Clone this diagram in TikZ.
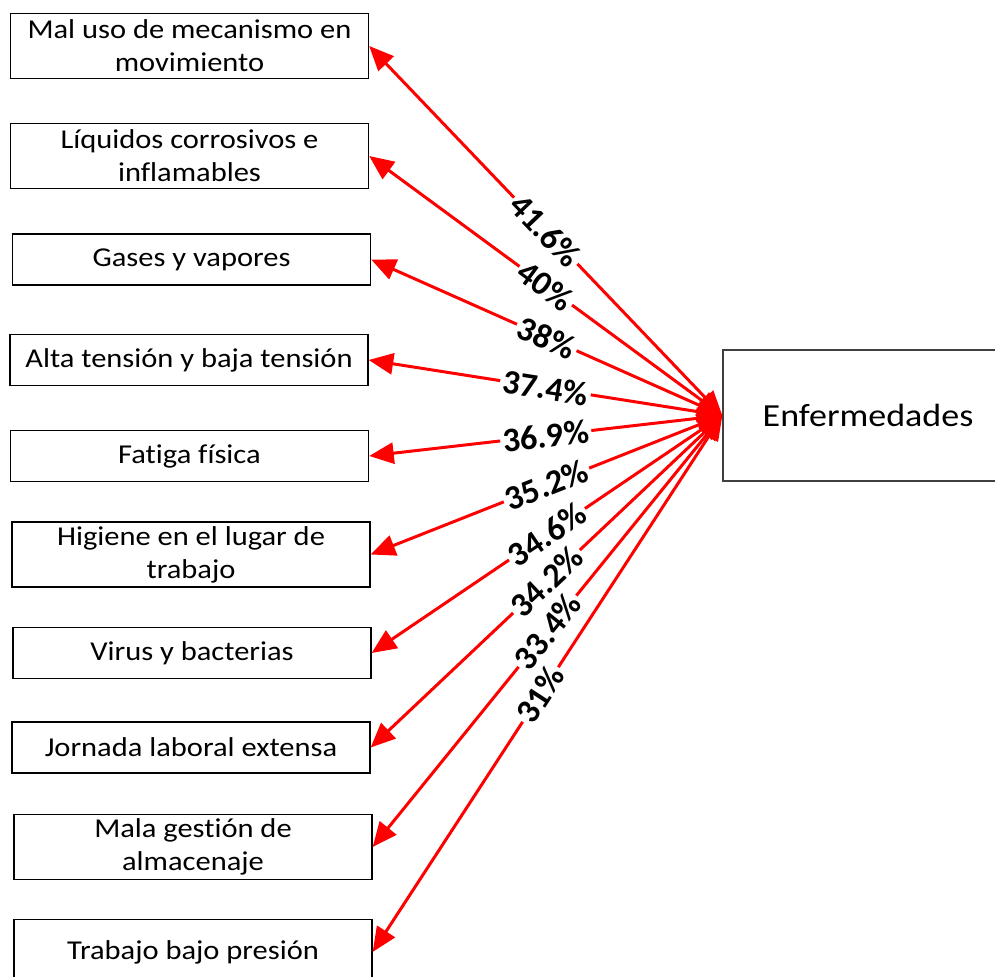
\documentclass[tikz,border=0pt]{standalone}
\usepackage{fontspec}
\setmainfont{Carlito}[Ligatures=NoCommon]
\newfontfamily\widefont{Carlito}[FakeStretch=1.12, Ligatures=NoCommon]
\usetikzlibrary{arrows.meta,positioning}

\begin{document}
\begin{tikzpicture}[
  x=0.02cm, y=0.02cm,
  factor/.style={rectangle, draw=black, line width=0.8pt, fill=white,
    minimum width=7.16cm, minimum height=1.02cm, inner sep=2pt,
    font=\widefont\fontsize{15.5}{18.7}\selectfont, align=center},
  tall/.style={minimum height=1.3cm},
  effect/.style={rectangle, draw=black!75, line width=0.8pt, fill=white,
    minimum width=5.8cm, minimum height=2.62cm,
    font=\widefont\fontsize{18.3}{22}\selectfont, text depth=0pt},
  arr/.style={{Triangle[length=14pt,width=12pt]}-{Triangle[length=14pt,width=12pt]},
    draw=red, fill=red, line width=1.7pt},
  pct/.style={sloped, fill=white, inner sep=1.5pt,
    font=\fontsize{19.5}{21}\selectfont\bfseries}
]
\useasboundingbox (0,0) rectangle (995,977);

%% ── Left column: causes ─────────────────────────────────────────────────────
\node[factor, tall] (mal)     at (189.5,931)   {Mal uso de mecanismo en\\movimiento};
\node[factor, tall] (liq)     at (189.5,821)   {Líquidos corrosivos e\\inflamables};
\node[factor]       (gases)   at (191.5,717.5) {Gases y vapores};
\node[factor]       (tension) at (189,617)     {Alta tensión y baja tensión};
\node[factor]       (fatiga)  at (189.5,521)   {Fatiga física};
\node[factor, tall] (higiene) at (191,422.5)   {Higiene en el lugar de\\trabajo};
\node[factor]       (virus)   at (192,324)     {Virus y bacterias};
\node[factor]       (jornada) at (191,229.5)   {Jornada laboral extensa};
\node[factor, tall] (almac)   at (193,130)     {Mala gestión de\\almacenaje};
\node[factor, tall] (presion) at (193,25)      {Trabajo bajo presión};

%% ── Right: effect ───────────────────────────────────────────────────────────
\node[effect] (enf) at (868,561.5) {Enfermedades};

%% ── Links ───────────────────────────────────────────────────────────────────
\draw[arr] (enf.west) -- (mal.east);
\draw[arr] (enf.west) -- (liq.east);
\draw[arr] (enf.west) -- (gases.east);
\draw[arr] (enf.west) -- (tension.east);
\draw[arr] (enf.west) -- (fatiga.east);
\draw[arr] (enf.west) -- (higiene.east);
\draw[arr] (enf.west) -- (virus.east);
\draw[arr] (enf.west) -- (jornada.east);
\draw[arr] (enf.west) -- (almac.east);
\draw[arr] (enf.west) -- (presion.east);

%% ── Percentages on top of the links ─────────────────────────────────────────
\path (enf.west) -- node[pct] {41.6\%} (mal.east);
\path (enf.west) -- node[pct] {40\%}   (liq.east);
\path (enf.west) -- node[pct] {38\%}   (gases.east);
\path (enf.west) -- node[pct] {37.4\%} (tension.east);
\path (enf.west) -- node[pct] {36.9\%} (fatiga.east);
\path (enf.west) -- node[pct] {35.2\%} (higiene.east);
\path (enf.west) -- node[pct] {34.6\%} (virus.east);
\path (enf.west) -- node[pct] {34.2\%} (jornada.east);
\path (enf.west) -- node[pct] {33.4\%} (almac.east);
\path (enf.west) -- node[pct, pos=0.52] {31\%} (presion.east);

\end{tikzpicture}
\end{document}
